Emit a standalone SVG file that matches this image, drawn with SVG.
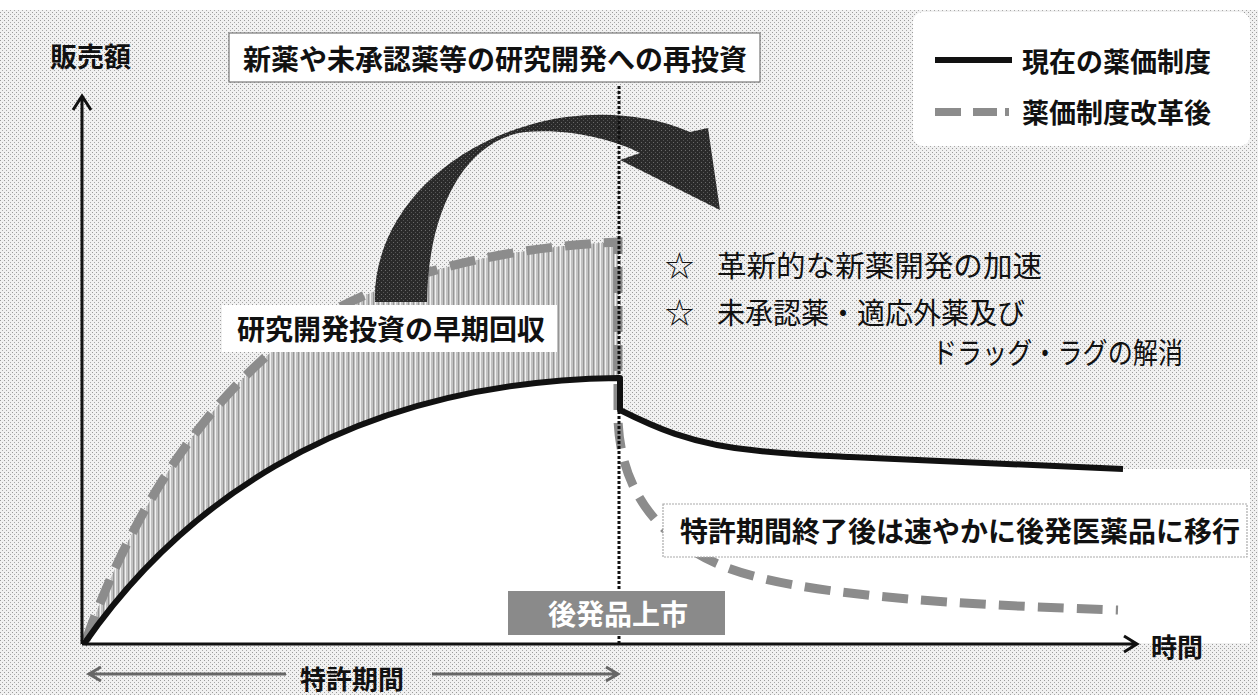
<svg xmlns="http://www.w3.org/2000/svg" width="1258" height="695" viewBox="0 0 1258 695">
<defs>
  <pattern id="dots" width="4" height="4" patternUnits="userSpaceOnUse">
    <rect width="4" height="4" fill="#f1f1f1"/>
    <rect width="1" height="1" fill="#9a9a9a"/>
    <rect x="2" y="2" width="1" height="1" fill="#a8a8a8"/>
  </pattern>
  <pattern id="hatch" width="5" height="5" patternUnits="userSpaceOnUse">
    <rect width="5" height="5" fill="#c2c2c2"/>
    <rect x="0" width="1" height="5" fill="#f0f0f0"/>
    <rect x="3" width="1" height="5" fill="#959595"/>
  </pattern>
  <pattern id="darkdots" width="4" height="4" patternUnits="userSpaceOnUse">
    <rect width="4" height="4" fill="#2a2a2a"/>
    <rect x="1" y="2" width="1" height="1" fill="#6a6a6a"/>
    <rect x="3" y="0" width="1" height="1" fill="#555"/>
  </pattern>
</defs>
<style>
  .t { font-family: "Noto Sans CJK JP", "Noto Sans", sans-serif; fill: #111; dominant-baseline: central; }
  .b { font-weight: 700; }
  .r { font-weight: 400; }
  .box { fill: #ffffff; }
  .axis { stroke: #111; stroke-width: 3; fill: none; }
  .cur { stroke: #111; stroke-width: 6; fill: none; stroke-linejoin: round; }
  .ref { stroke: #8c8c8c; stroke-width: 9; fill: none; stroke-dasharray: 26 13; }
  .per { stroke: #666; stroke-width: 3; fill: none; }
</style>

<!-- background -->
<rect width="1258" height="695" fill="url(#dots)"/>
<rect width="1258" height="10" fill="#ffffff"/>

<!-- areas -->
<path d="M84,644 C170,520 330,382 618,378 L620,410 C650,425 690,445 760,451 C800,455 830,456 850,457 L1123,469 L1250,469 L1250,643 Z" fill="#ffffff"/>
<path d="M86,640 C115,560 165,450 260,362 C330,297 450,250 618,242 L618,378 C330,382 170,520 84,644 Z" fill="url(#hatch)"/>

<g id="connectors">
  <!-- curves -->
  <path class="ref" d="M86,640 C115,560 165,450 260,362 C330,297 450,250 618,242 L618,420 C620,470 640,530 720,565 C780,590 900,603 1118,610"/>
  <path class="cur" d="M84,644 C170,520 330,382 618,378 L620,378 L620,410 C650,425 690,445 760,451 C800,455 830,456 850,457 L1123,469"/>
  <!-- big curved arrow -->
  <path d="M375,302 C372,230 430,150 540,122 C580,112 640,110 690,132 L708,128 L720,210 L620,160 L640,153 C615,140 570,128 525,132 C465,140 428,210 427,302 Z" fill="url(#darkdots)"/>
  <!-- dotted vertical line -->
  <line x1="619" y1="86" x2="619" y2="644" stroke="#111" stroke-width="3" stroke-dasharray="3 2"/>
  <!-- axes -->
  <path class="axis" d="M82,644 L82,97 M73,110 L82,96 L91,110"/>
  <path class="axis" d="M82,644 L1136,644 M1124,636 L1137,644 L1124,652"/>
  <!-- patent period arrow -->
  <path class="per" d="M90,674 L286,674 M101,667 L89,674 L101,681"/>
  <path class="per" d="M432,674 L618,674 M606,667 L618,674 L606,681"/>
</g>

<g id="y-label"><text class="t b" x="50" y="55" font-size="27">販売額</text></g>
<g id="x-label"><text class="t b" x="1151" y="645" font-size="26">時間</text></g>
<g id="period-label"><text class="t b" x="300" y="677" font-size="26">特許期間</text></g>

<g id="reinvest">
  <rect class="box" x="229" y="33" width="531" height="49" stroke="#777" stroke-width="1.2"/>
  <text class="t b" x="243" y="57.5" font-size="28">新薬や未承認薬等の研究開発への再投資</text>
</g>

<g id="legend">
  <rect class="box" x="913" y="12" width="337" height="134" rx="10"/>
  <line x1="935" y1="60" x2="1012" y2="60" stroke="#111" stroke-width="6"/>
  <line x1="935" y1="112" x2="1012" y2="112" stroke="#8c8c8c" stroke-width="8" stroke-dasharray="26 12 24 8 4 20"/>
  <text class="t b" x="1022" y="60" font-size="27">現在の薬価制度</text>
  <text class="t b" x="1022" y="111" font-size="27">薬価制度改革後</text>
</g>

<g id="recovery">
  <rect class="box" x="222" y="305" width="335" height="47"/>
  <text class="t b" x="237" y="328" font-size="28">研究開発投資の早期回収</text>
</g>

<g id="effects">
  <text class="t r" x="665" y="264" font-size="29">☆</text>
  <text class="t r" x="717" y="264" font-size="29" textLength="325" lengthAdjust="spacingAndGlyphs">革新的な新薬開発の加速</text>
  <text class="t r" x="665" y="311" font-size="29">☆</text>
  <text class="t r" x="717" y="311" font-size="29" textLength="308" lengthAdjust="spacingAndGlyphs">未承認薬・適応外薬及び</text>
  <text class="t r" x="932" y="351" font-size="29" textLength="251" lengthAdjust="spacingAndGlyphs">ドラッグ・ラグの解消</text>
</g>

<g id="generic-shift">
  <rect class="box" x="663" y="504" width="584" height="53" stroke="#aaa" stroke-width="1.2" stroke-dasharray="2 1"/>
  <text class="t b" x="680" y="530" font-size="28">特許期間終了後は速やかに後発医薬品に移行</text>
</g>

<g id="generic-launch">
  <rect x="508" y="591" width="217" height="44" fill="#8a8a8a"/>
  <text class="t b" x="548" y="613" font-size="28" style="fill:#ffffff">後発品上市</text>
</g>
</svg>
